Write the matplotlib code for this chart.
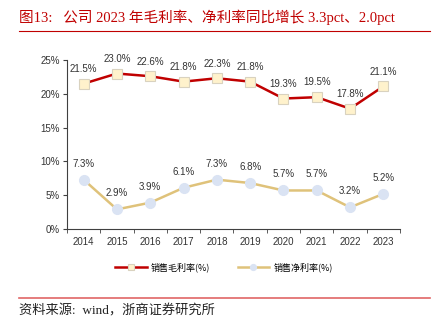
import matplotlib.pyplot as plt
import numpy as np

plt.rcParams['font.family'] = ['Liberation Sans', 'Noto Sans CJK SC', 'DejaVu Sans']

years = ['2014', '2015', '2016', '2017', '2018', '2019', '2020', '2021', '2022', '2023']
gross = [21.5, 23.0, 22.6, 21.8, 22.3, 21.8, 19.3, 19.5, 17.8, 21.1]
net = [7.3, 2.9, 3.9, 6.1, 7.3, 6.8, 5.7, 5.7, 3.2, 5.2]

title = '图13:   公司 2023 年毛利率、净利率同比增长 3.3pct、2.0pct'
source = '资料来源:  wind，浙商证券研究所'

fig = plt.figure(figsize=(4.39, 3.34), dpi=100)
ax = fig.add_axes([67/439, 1 - 229/334, (400 - 67)/439, (229 - 60)/334])

x = np.arange(len(years))
ax.plot(x, gross, color='#c00000', lw=1.8, marker='s', ms=6.5,
        mfc='#fff2cc', mec='#d9d2bf', mew=0.8, label='销售毛利率(%)', zorder=3)
ax.plot(x, net, color='#dfc27a', lw=1.8, marker='o', ms=7,
        mfc='#dae3f3', mec='#dae3f3', label='销售净利率(%)', zorder=3)

for i, v in enumerate(gross):
    ax.annotate(f'{v:.1f}%', (i, v), xytext=(0, 7), textcoords='offset points',
                ha='center', va='bottom', fontsize=7, color='#333333')
for i, v in enumerate(net):
    ax.annotate(f'{v:.1f}%', (i, v), xytext=(0, 8), textcoords='offset points',
                ha='center', va='bottom', fontsize=7, color='#333333')

ax.set_xlim(-0.5, len(years) - 0.5)
ax.set_ylim(0, 25)
ax.set_yticks([0, 5, 10, 15, 20, 25])
ax.set_yticklabels([f'{t}%' for t in [0, 5, 10, 15, 20, 25]], fontsize=7, color='#333333')
ax.set_xticks(x)
ax.set_xticklabels(years, fontsize=7, color='#333333')
ax.set_xticks(np.arange(-0.5, len(years)), minor=True)
ax.tick_params(axis='x', which='major', length=0, pad=6)
ax.tick_params(axis='x', which='minor', length=3, color='#404040')
ax.tick_params(axis='y', length=3, color='#404040', pad=2)
for s in ['top', 'right']:
    ax.spines[s].set_visible(False)
for s in ['left', 'bottom']:
    ax.spines[s].set_color('#404040')
    ax.spines[s].set_linewidth(0.8)

fig.legend(loc='center', bbox_to_anchor=(224/439, 1 - 267/334), ncol=2, frameon=False,
           handlelength=3.5, columnspacing=3, handletextpad=0.5, markerscale=0.6,
           prop={'family': ['Noto Sans CJK SC'], 'size': 6.5})

fig.text(19/439, 1 - 17/334, title, fontsize=10.5, color='#c00000', va='center',
         family=['Liberation Serif', 'Noto Sans CJK SC'])
fig.add_artist(plt.Line2D([19/439, 430/439], [1 - 31/334] * 2, color='#c00000', lw=0.8))
fig.add_artist(plt.Line2D([19/439, 430/439], [1 - 298/334] * 2, color='#e06666', lw=1.2))
fig.text(19/439, 1 - 311/334, source, fontsize=9.5, color='#222222', va='center',
         family=['Liberation Serif', 'Noto Sans CJK SC'])

fig.savefig('out.png', dpi=100)
